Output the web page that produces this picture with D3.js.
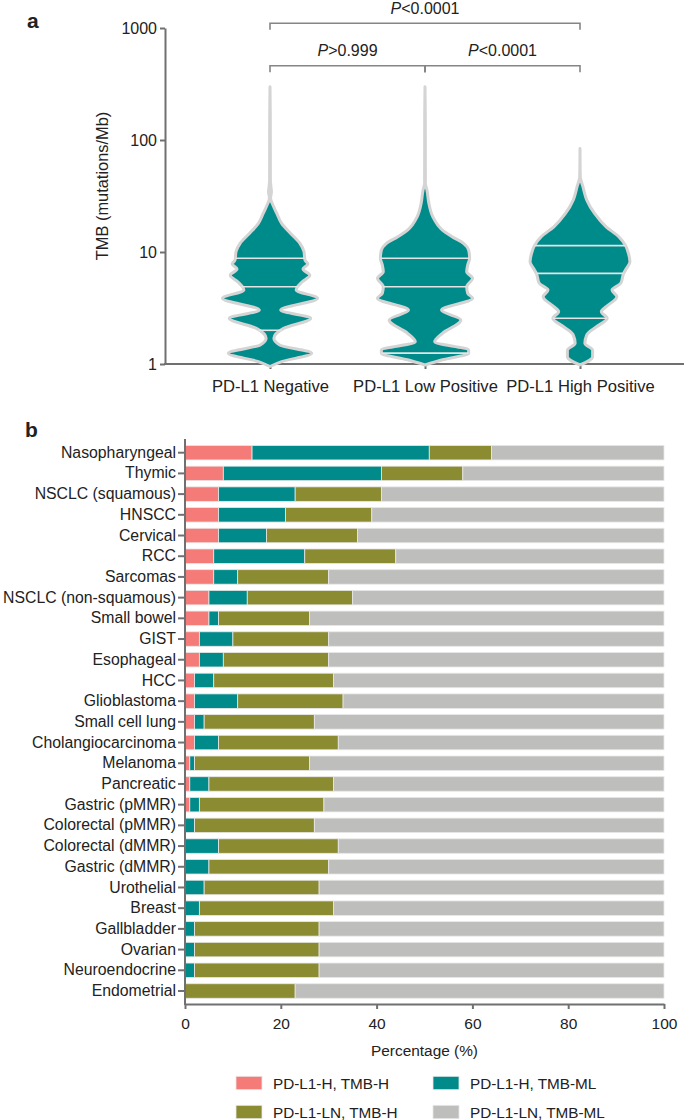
<!DOCTYPE html>
<html><head><meta charset="utf-8">
<script src="https://cdn.jsdelivr.net/npm/d3@7"></script>
<style>
body{margin:0;background:#fff}
text{font-family:"Liberation Sans",Arial,sans-serif;fill:#222}
</style>
</head><body>
<svg id="chart" width="685" height="1120"></svg>
<script>
// ---------------- Panel a data ----------------
const groups = ["PD-L1 Negative", "PD-L1 Low Positive", "PD-L1 High Positive"];
const tmbTicks = [1, 10, 100, 1000];
// violin outline: [TMB, relative density]
const negProfile = [[299,0],[170,0.006],[44,0.008],[38,0.02],[34.6,0.03],[30.2,0.012],[26.3,0.06],[22.1,0.14],[18,0.24],[14.7,0.42],[11.9,0.62],[10.1,0.70],[8.5,0.72],[7.8,0.78],[7.05,0.68],[6.2,0.82],[5.4,0.66],[4.58,0.54],[3.86,0.98],[3.03,0.22],[2.56,0.84],[2.08,0.28],[1.70,0.08],[1.48,0.2],[1.245,0.86],[1.05,0.24],[0.95,0]];
const lowProfile = [[299,0],[170,0.006],[41,0.008],[35.8,0.04],[27.2,0.08],[20.7,0.16],[15.7,0.36],[13.7,0.56],[11.9,0.80],[10.4,0.90],[8.78,0.92],[7.65,0.88],[6.67,0.86],[5.82,0.98],[4.9,0.86],[4.28,0.88],[3.86,0.98],[3.03,0.34],[2.47,0.74],[1.88,0.36],[1.58,0.2],[1.33,0.9],[1.245,0.9],[1.09,0.36],[0.98,0]];
const highProfile = [[84,0],[47,0.006],[38.3,0.06],[29.1,0.14],[22.1,0.30],[16.8,0.54],[13.7,0.80],[11.4,0.94],[9.7,1.0],[8.2,1.03],[7.15,0.96],[6.45,0.9],[5.25,0.84],[4.58,0.66],[3.99,0.76],[3.25,0.54],[2.93,0.44],[2.56,0.56],[2.15,0.34],[1.82,0.14],[1.53,0.1],[1.33,0.26],[1.16,0.26],[0.98,0]];
const negQuartiles = [2.0, 4.9, 8.8];
const lowQuartiles = [1.25, 4.9, 8.8];
const highQuartiles = [2.56, 6.45, 11.4];
const comparisons = [
  {from: 0, to: 2, level: 0, label: "<0.0001"},
  {from: 0, to: 1, level: 1, label: ">0.999"},
  {from: 1, to: 2, level: 1, label: "<0.0001"}
];

// ---------------- Panel b data ----------------
const cancers = ["Nasopharyngeal","Thymic","NSCLC (squamous)","HNSCC","Cervical","RCC","Sarcomas","NSCLC (non-squamous)","Small bowel","GIST","Esophageal","HCC","Glioblastoma","Small cell lung","Cholangiocarcinoma","Melanoma","Pancreatic","Gastric (pMMR)","Colorectal (pMMR)","Colorectal (dMMR)","Gastric (dMMR)","Urothelial","Breast","Gallbladder","Ovarian","Neuroendocrine","Endometrial"];
const hH  = [14,8,7,7,7,6,6,5,5,3,3,2,2,2,2,1,1,1,0,0,0,0,0,0,0,0,0];
const hML = [37,33,16,14,10,19,5,8,2,7,5,4,9,2,5,1,4,2,2,7,5,4,3,2,2,2,0];
const lnH = [13,17,18,18,19,19,19,22,19,20,22,25,22,23,25,24,26,26,25,25,25,24,28,26,26,26,23];
const lnML = cancers.map((c,i) => 100 - hH[i] - hML[i] - lnH[i]);
const seriesNames = ["PD-L1-H, TMB-H", "PD-L1-H, TMB-ML", "PD-L1-LN, TMB-H", "PD-L1-LN, TMB-ML"];
const pctTicks = [0, 20, 40, 60, 80, 100];

// ---------------- drawing ----------------
const svg = d3.select("#chart");
const axisColor = "#707070";
const teal = "#008b8b";
const colors = ["#f47b77", "#018a8a", "#8b8b32", "#bebebc"];

// ===== Panel a =====
const yA = d3.scaleLog().domain([1, 1000]).range([364, 28]);
const xA = d3.scalePoint().domain(groups).range([270, 580]);
const wA = d3.scaleLinear().domain([0, 1]).range([0, 48.5]);

svg.append("text").attr("x", 27).attr("y", 28).attr("font-size", 21).attr("font-weight", "bold").text("a");

const gy = svg.append("g").attr("transform", "translate(165,0)")
  .call(d3.axisLeft(yA).tickValues(tmbTicks).tickFormat(d3.format("d")).tickSize(5).tickSizeOuter(0).tickPadding(3));
gy.select(".domain").attr("stroke", axisColor).attr("stroke-width", 2);
gy.selectAll(".tick line").attr("stroke", axisColor).attr("stroke-width", 2);
gy.selectAll(".tick text").attr("font-size", 16).attr("fill", "#222").attr("font-family", "Liberation Sans, Arial, sans-serif");

svg.append("text").attr("transform", "translate(102,186) rotate(-90)")
  .attr("text-anchor", "middle").attr("dominant-baseline", "central").attr("font-size", 16.4)
  .text("TMB (mutations/Mb)");

const gxA = svg.append("g").attr("transform", "translate(0,364)")
  .call(d3.axisBottom(xA).tickSize(5).tickPadding(11));
gxA.select(".domain").remove();
gxA.selectAll(".tick line").attr("stroke", axisColor).attr("stroke-width", 2);
gxA.selectAll(".tick text").attr("font-size", 16.6).attr("fill", "#222").attr("font-family", "Liberation Sans, Arial, sans-serif");
svg.append("line").attr("x1", 164).attr("x2", 684).attr("y1", 364).attr("y2", 364)
  .attr("stroke", axisColor).attr("stroke-width", 2);

const profiles = [negProfile, lowProfile, highProfile];
const quartiles = [negQuartiles, lowQuartiles, highQuartiles];

function densityAt(profile, t) {
  const lt = Math.log10(t);
  for (let i = 0; i < profile.length - 1; i++) {
    const a = Math.log10(profile[i][0]), b = Math.log10(profile[i+1][0]);
    if (lt <= a && lt >= b) {
      const f = (a - lt) / (a - b);
      return profile[i][1] + f * (profile[i+1][1] - profile[i][1]);
    }
  }
  return 0;
}

groups.forEach((g, gi) => {
  const cx = xA(g);
  const area = d3.area()
    .y(d => yA(d[0]))
    .x0(d => cx - wA(d[1]))
    .x1(d => cx + wA(d[1]))
    .curve(d3.curveMonotoneY);
  svg.append("path").datum(profiles[gi]).attr("d", area)
    .attr("fill", teal).attr("stroke", "#d4d4d4").attr("stroke-width", 3).attr("stroke-linejoin", "round");
  quartiles[gi].forEach(q => {
    const hw = wA(densityAt(profiles[gi], q));
    svg.append("line").attr("x1", cx - hw).attr("x2", cx + hw)
      .attr("y1", yA(q)).attr("y2", yA(q))
      .attr("stroke", "#e4e4e4").attr("stroke-width", 1.6);
  });
});

// significance brackets
const bracketY = [23.3, 65.7];
comparisons.forEach(c => {
  const x1 = xA(groups[c.from]), x2 = xA(groups[c.to]);
  const y = bracketY[c.level];
  svg.append("path").attr("d", `M${x1},${y+6.5}V${y}H${x2}V${y+6.5}`)
    .attr("fill", "none").attr("stroke", "#858585").attr("stroke-width", 1.6);
  const t = svg.append("text").attr("x", (x1 + x2) / 2).attr("y", y - 9.5)
    .attr("text-anchor", "middle").attr("font-size", 16);
  t.append("tspan").attr("font-style", "italic").text("P");
  t.append("tspan").text(c.label);
});
svg.append("line").attr("x1", xA(groups[1])).attr("x2", xA(groups[1]))
  .attr("y1", bracketY[1]).attr("y2", bracketY[1] + 6.5)
  .attr("stroke", "#858585").attr("stroke-width", 1.6);

// ===== Panel b =====
svg.append("text").attr("x", 25).attr("y", 437).attr("font-size", 21).attr("font-weight", "bold").text("b");

const xB = d3.scaleLinear().domain([0, 100]).range([185, 664]);
const yB = d3.scaleBand().domain(cancers).range([442.35, 1001.35]).paddingInner(0.3).paddingOuter(0.15);

const rows = cancers.map((c, i) => ({cancer: c, s0: hH[i], s1: hML[i], s2: lnH[i], s3: lnML[i]}));
const stacked = d3.stack().keys(["s0", "s1", "s2", "s3"])(rows);

stacked.forEach((layer, li) => {
  svg.append("g").selectAll("rect").data(layer).join("rect")
    .attr("x", d => xB(d[0]))
    .attr("width", d => Math.max(0, xB(d[1]) - xB(d[0])))
    .attr("y", d => yB(d.data.cancer))
    .attr("height", yB.bandwidth())
    .attr("fill", colors[li])
    .attr("stroke", d => (d[1] - d[0]) > 0 ? "#e8e8e8" : "none")
    .attr("stroke-width", 0.8);
});

const gyB = svg.append("g").attr("transform", "translate(185,0)")
  .call(d3.axisLeft(yB).tickSize(7).tickPadding(2).tickSizeOuter(0));
gyB.select(".domain").remove();
gyB.selectAll(".tick line").attr("stroke", axisColor).attr("stroke-width", 2);
gyB.selectAll(".tick text").attr("font-size", 15.8).attr("fill", "#222").attr("font-family", "Liberation Sans, Arial, sans-serif");
svg.append("line").attr("x1", 185).attr("x2", 185).attr("y1", 439).attr("y2", 1005)
  .attr("stroke", axisColor).attr("stroke-width", 2);

const gxB = svg.append("g").attr("transform", "translate(0,1004)")
  .call(d3.axisBottom(xB).tickValues(pctTicks).tickSize(5).tickSizeOuter(0).tickPadding(9));
gxB.select(".domain").attr("stroke", axisColor).attr("stroke-width", 2);
gxB.selectAll(".tick line").attr("stroke", axisColor).attr("stroke-width", 2);
gxB.selectAll(".tick text").attr("font-size", 15.5).attr("fill", "#222").attr("font-family", "Liberation Sans, Arial, sans-serif");

svg.append("text").attr("x", (xB(0) + xB(100)) / 2).attr("y", 1055.5)
  .attr("text-anchor", "middle").attr("font-size", 15.4).text("Percentage (%)");

// legend
const legendPos = [[236, 1083], [433, 1083], [236, 1112], [433, 1112]];
const legendOrder = [0, 1, 2, 3];
legendOrder.forEach((si, k) => {
  const [lx, ly] = legendPos[k];
  svg.append("rect").attr("x", lx).attr("y", ly - 6.7).attr("width", 26).attr("height", 13.4)
    .attr("fill", colors[si]).attr("stroke", "#e8e8e8").attr("stroke-width", 0.8);
  svg.append("text").attr("x", lx + 37).attr("y", ly).attr("dominant-baseline", "central")
    .attr("font-size", 15.3).text(seriesNames[si]);
});
</script>
</body></html>
